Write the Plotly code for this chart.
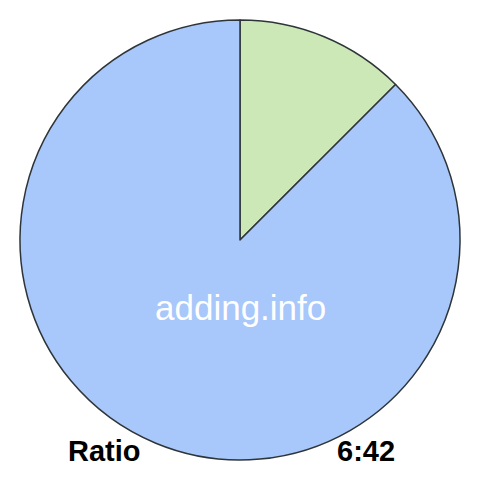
import plotly.graph_objects as go

labels = ["First", "Second"]
values = [6, 42]
colors = ["#cde8b7", "#a8c7fa"]
ratio_label = "Ratio"
ratio_text = "6:42"
watermark = "adding.info"

W = 480.0
OFF = 8.0  # page body margin


def px(x):
    return (x - OFF) / W


def py(y):
    return 1 - (y - OFF) / W


fig = go.Figure(go.Pie(
    labels=labels,
    values=values,
    sort=False,
    direction="clockwise",
    rotation=0,
    marker=dict(colors=colors, line=dict(color="#2e3538", width=1.5)),
    textinfo="none",
    hoverinfo="none",
    showlegend=False,
    domain=dict(x=[px(20), px(460)], y=[py(460), py(20)]),
))

fig.add_annotation(text=watermark, x=px(240), y=py(307), xref="paper", yref="paper",
                   xanchor="center", yanchor="middle", showarrow=False,
                   font=dict(family="Liberation Sans, Arial", size=35, color="white"))
fig.add_annotation(text="<b>%s</b>" % ratio_label, x=px(104), y=py(451), xref="paper", yref="paper",
                   xanchor="center", yanchor="middle", showarrow=False,
                   font=dict(family="Liberation Sans, Arial", size=29, color="black"))
fig.add_annotation(text="<b>%s</b>" % ratio_text, x=px(366), y=py(451), xref="paper", yref="paper",
                   xanchor="center", yanchor="middle", showarrow=False,
                   font=dict(family="Liberation Sans, Arial", size=29, color="black"))

fig.update_layout(width=480, height=480, margin=dict(l=0, r=0, t=0, b=0),
                  paper_bgcolor="white", plot_bgcolor="white")
fig.write_html("out.html")
